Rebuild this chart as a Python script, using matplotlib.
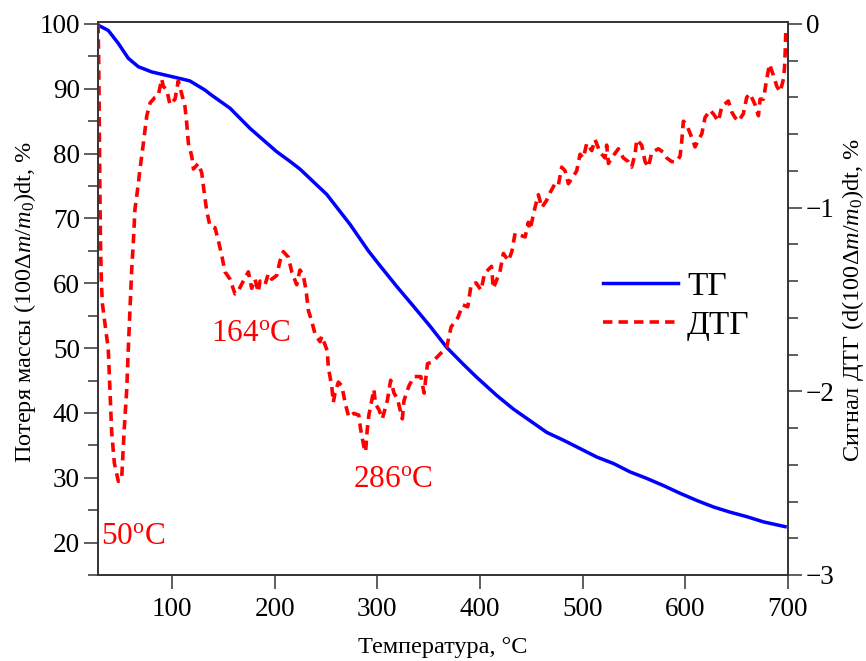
import matplotlib
matplotlib.use("Agg")
import matplotlib.pyplot as plt
from matplotlib.ticker import MultipleLocator
from matplotlib.lines import Line2D

plt.rcParams['font.family'] = ['Liberation Serif', 'DejaVu Serif']
plt.rcParams['mathtext.fontset'] = 'custom'
plt.rcParams['mathtext.rm'] = 'Liberation Serif'
plt.rcParams['mathtext.it'] = 'Liberation Serif:italic'

# ---- TG (mass loss), left axis ----
tg_temp = [28.0, 28.3, 38, 47.8, 57.5, 67.3, 80.3, 96.5, 112.7, 117.6, 132.2, 137, 156.6, 176,
           195.5, 202, 215, 224.8, 250.8, 273.4, 291.3, 302.7, 319, 335, 351.3, 367.6, 383.8,
           396.8, 416.3, 432.5, 448.8, 465, 481.2, 497.5, 513.7, 530, 546.2, 562.4, 578.6,
           594.9, 611.1, 627.3, 643.5, 659.8, 676, 698.8]
tg_val = [100.0, 99.8, 99.0, 97.0, 94.7, 93.4, 92.6, 92.0, 91.4, 91.2, 89.8, 89.2, 87.0, 83.9,
          81.2, 80.3, 78.8, 77.6, 73.7, 69.1, 65.0, 62.7, 59.5, 56.5, 53.4, 50.1, 47.5,
          45.5, 42.7, 40.6, 38.8, 37.0, 35.8, 34.5, 33.2, 32.2, 30.9, 29.9, 28.8,
          27.6, 26.5, 25.5, 24.7, 24.0, 23.2, 22.4]

# ---- DTG signal, right axis ----
dtg_temp = [28, 28.6, 29.0, 29.5, 30.0, 30.6, 31.4, 32.2, 34.8, 38, 39.7, 41.3, 43.9, 47.8, 51,
            53.6, 56, 57.5, 59.2, 60.8, 62.4, 64, 67.3, 68.9, 70.6, 72.2, 75.5, 78.8, 83.5, 86.7,
            90, 91.6, 95, 98.1, 103, 106.2, 109.5, 112.7, 114.4, 116, 119.3, 120.9, 125.7, 129,
            131.5, 133.9, 137.1, 142, 145.2, 148.5, 151.7, 156.6, 161.4, 164, 169.5, 174.4,
            177.7, 180.9, 184.1, 185.8, 190.7, 193.9, 197.2, 202, 205.3, 208.5, 213.4, 216.7,
            221.5, 224.7, 228, 230.6, 232.9, 236.2, 239.5, 244.2, 246, 251.3, 252.3, 255.6,
            257.2, 258.8, 262.1, 265.4, 269, 272.2, 277.1, 282, 283.6, 286.9, 288.6, 290.2,
            291.8, 296.7, 298.3, 301.6, 304.9, 309.8, 313, 316.3, 319.6, 324.4, 326, 330.9,
            335.8, 342.4, 345.6, 348.9, 353.8, 358.9, 367.6, 371.9, 378.4, 383.3, 388.1, 391.4,
            396.2, 401.1, 404.4, 411.2, 413, 419.4, 422.8, 427.7, 431, 434.2, 439.1, 444, 447.1,
            448.8, 453.6, 456.9, 460.2, 465, 468.2, 473.1, 476.3, 479.6, 482.9, 486.1, 491,
            494.2, 497.5, 500.7, 504, 508.9, 512.1, 517, 521.8, 523.4, 525.1, 528.3, 534.8,
            539.6, 544.5, 547.8, 551, 552.7, 557.5, 560.8, 564, 567.3, 573.8, 578.6, 581.9,
            586.7, 591.6, 594.9, 596.5, 598.1, 601.4, 606.3, 609.5, 612.8, 616, 619.2, 624.1,
            627.3, 632.2, 635.5, 641.9, 645.2, 648.4, 651.7, 656.5, 659.8, 663, 667.9, 671.2,
            672.8, 676.1, 678.7, 681.9, 685.8, 689.1, 692.4, 695.6, 696.6, 697.3, 697.8]
dtg_val = [0.0, -0.15, -0.4, -0.7, -1.0, -1.25, -1.42, -1.52, -1.63, -1.77, -2.0, -2.22, -2.39,
           -2.49, -2.48, -2.2, -1.99, -1.77, -1.55, -1.34, -1.19, -1.01, -0.87, -0.79, -0.72,
           -0.65, -0.50, -0.43, -0.40, -0.39, -0.30, -0.34, -0.36, -0.44, -0.41, -0.31, -0.38,
           -0.45, -0.54, -0.65, -0.72, -0.79, -0.76, -0.81, -0.92, -1.02, -1.10, -1.11, -1.18,
           -1.26, -1.35, -1.39, -1.47, -1.46, -1.40, -1.35, -1.44, -1.39, -1.46, -1.40, -1.42,
           -1.36, -1.39, -1.37, -1.29, -1.24, -1.27, -1.35, -1.42, -1.34, -1.37, -1.45, -1.56,
           -1.62, -1.69, -1.73, -1.70, -1.78, -1.87, -1.97, -2.06, -2.01, -1.95, -1.97, -2.07,
           -2.14, -2.12, -2.13, -2.20, -2.30, -2.33, -2.21, -2.13, -1.99, -2.07, -2.10, -2.15,
           -2.05, -1.94, -2.01, -2.04, -2.15, -2.05, -1.97, -1.92, -1.92, -2.01, -1.85, -1.84,
           -1.81, -1.76, -1.65, -1.60, -1.53, -1.54, -1.42, -1.41, -1.45, -1.36, -1.32, -1.44,
           -1.35, -1.25, -1.29, -1.24, -1.14, -1.15, -1.16, -1.08, -1.12, -1.00, -0.93, -1.00,
           -0.96, -0.92, -0.87, -0.88, -0.78, -0.80, -0.87, -0.83, -0.80, -0.71, -0.73, -0.65,
           -0.69, -0.63, -0.70, -0.73, -0.66, -0.76, -0.73, -0.68, -0.73, -0.75, -0.78, -0.71,
           -0.63, -0.66, -0.75, -0.78, -0.70, -0.68, -0.70, -0.73, -0.75, -0.75, -0.72, -0.64,
           -0.53, -0.55, -0.62, -0.67, -0.63, -0.60, -0.51, -0.47, -0.49, -0.53, -0.45, -0.42,
           -0.48, -0.51, -0.53, -0.49, -0.40, -0.38, -0.44, -0.50, -0.41, -0.41, -0.32, -0.22,
           -0.28, -0.34, -0.37, -0.30, -0.24, -0.15, -0.05]

x_ticks = [100, 200, 300, 400, 500, 600, 700]
left_ticks = [20, 30, 40, 50, 60, 70, 80, 90, 100]
right_ticks = [0, -1, -2, -3]

# peak annotations: (label, text temperature, text level on left axis)
peak_labels = ["50$^{\\mathrm{o}}$C", "164$^{\\mathrm{o}}$C", "286$^{\\mathrm{o}}$C"]
peak_text_pos = [(62, 21.0), (177, 52.3), (315, 29.8)]

W, H = 866, 661
fig = plt.figure(figsize=(W / 100, H / 100), dpi=100)
L, R, T, B = 98, 788, 22, 575
ax = fig.add_axes([L / W, 1 - B / H, (R - L) / W, (B - T) / H])
ax2 = ax.twinx()

spine_col = '#333333'
blue = '#0000ff'
red = '#ff0000'
dash = (0, (2.6, 1.7))

ln1, = ax.plot(tg_temp, tg_val, color=blue, lw=2.5, solid_capstyle='butt', zorder=3)
ln2, = ax2.plot(dtg_temp, dtg_val, color=red, lw=2.6, linestyle=dash, zorder=2)

ax.set_xlim(28, 700)
ax.set_ylim(15, 100.3)
ax2.set_ylim(-3, 0.01)

ax.set_xticks(x_ticks)
ax.set_yticks(left_ticks)
ax.yaxis.set_minor_locator(MultipleLocator(5))
ax2.set_yticks(right_ticks)
ax2.set_yticklabels(['0', '\u22121', '\u22122', '\u22123'])
ax2.yaxis.set_minor_locator(MultipleLocator(0.2))

for a in (ax, ax2):
    for s in a.spines.values():
        s.set_color(spine_col)
        s.set_linewidth(1.2)
    a.tick_params(which='major', direction='out', length=10, width=1.1, color=spine_col,
                  labelsize=19.5, pad=3)
    a.tick_params(which='minor', direction='out', length=7.5, width=1.1, color=spine_col)
ax.tick_params(axis='x', pad=6)

for (txt, (tx, ty)) in zip(peak_labels, peak_text_pos):
    ax.text(tx, ty, txt, color=red, fontsize=22.5, ha='center', va='center')

handles = [Line2D([], [], color=blue, lw=2.5),
           Line2D([], [], color=red, lw=2.6, linestyle=dash)]
ax.legend(handles, ['ТГ', 'ДТГ'], loc='center left', bbox_to_anchor=(0.732, 0.486),
          frameon=False, fontsize=24, handlelength=2.25, handletextpad=0.27,
          labelspacing=0.26, borderpad=0, borderaxespad=0)

fig.text(25 / W, 1 - 302 / H, "Потеря массы (100Δ$m$/$m_0$)dt, %", rotation=90,
         ha='center', va='center', fontsize=17.5)
fig.text(853 / W, 1 - 300 / H, "Сигнал ДТГ (d(100Δ$m$/$m_0$)dt, %", rotation=90,
         ha='center', va='center', fontsize=17.5)
fig.text(443 / W, 1 - 648 / H, "Температура, °C", ha='center', va='center', fontsize=17.5)

fig.savefig('out.png', dpi=100)
